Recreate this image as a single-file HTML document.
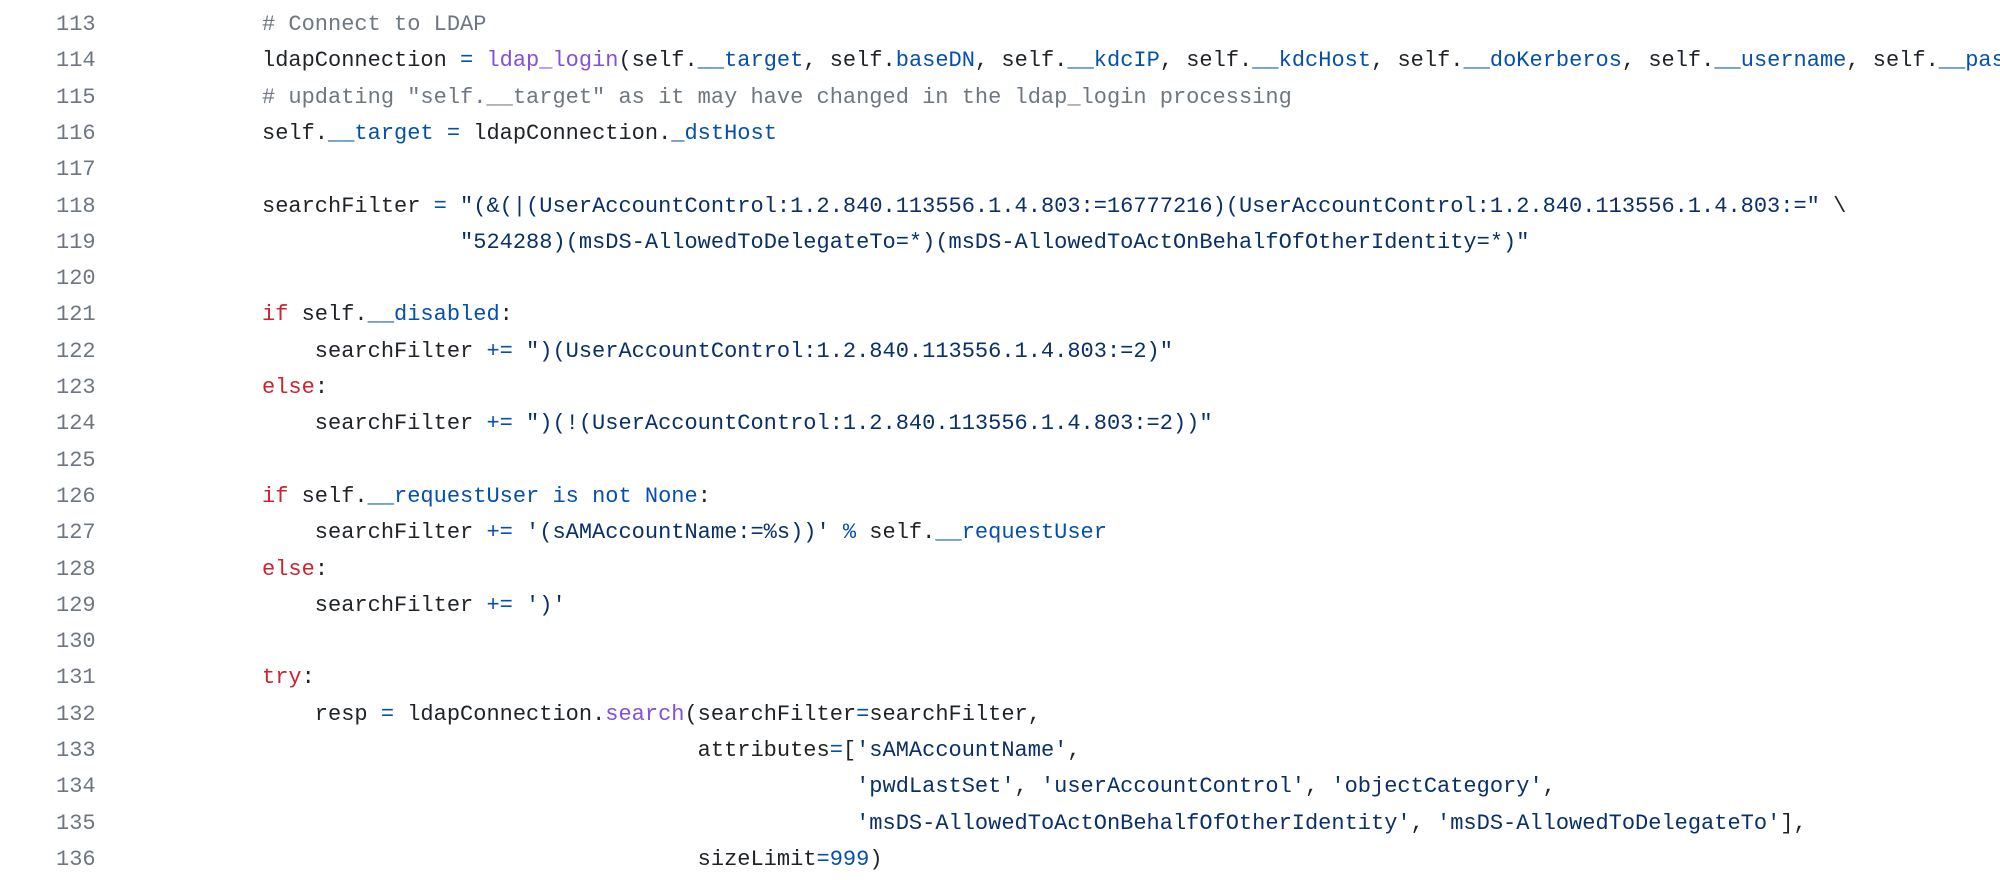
<!DOCTYPE html>
<html><head><meta charset="utf-8"><style>
html,body{margin:0;padding:0;background:#fff;width:2000px;height:880px;overflow:hidden}
.l{position:absolute;left:0;height:36.3px;line-height:36.3px;white-space:pre;font-family:"Liberation Mono",monospace;font-size:22px;color:#1f2328}
.n{position:absolute;left:56px;color:#6e7781}
.c{position:absolute;left:262px}
.k{color:#cf222e}.f{color:#8250df}.b{color:#0550ae}.s{color:#0a3069}.m{color:#6e7781}
</style></head><body>
<div class="l" style="top:7px"><span class="n">113</span><span class="c"><span class="m"># Connect to LDAP</span></span></div>
<div class="l" style="top:43.3px"><span class="n">114</span><span class="c">ldapConnection <span class="b">=</span> <span class="f">ldap_login</span>(self.<span class="b">__target</span>, self.<span class="b">baseDN</span>, self.<span class="b">__kdcIP</span>, self.<span class="b">__kdcHost</span>, self.<span class="b">__doKerberos</span>, self.<span class="b">__username</span>, self.<span class="b">__password</span></span></div>
<div class="l" style="top:79.6px"><span class="n">115</span><span class="c"><span class="m"># updating "self.__target" as it may have changed in the ldap_login processing</span></span></div>
<div class="l" style="top:115.9px"><span class="n">116</span><span class="c">self.<span class="b">__target</span> <span class="b">=</span> ldapConnection.<span class="b">_dstHost</span></span></div>
<div class="l" style="top:152.2px"><span class="n">117</span></div>
<div class="l" style="top:188.5px"><span class="n">118</span><span class="c">searchFilter <span class="b">=</span> <span class="s">"(&amp;(|(UserAccountControl:1.2.840.113556.1.4.803:=16777216)(UserAccountControl:1.2.840.113556.1.4.803:="</span> \</span></div>
<div class="l" style="top:224.8px"><span class="n">119</span><span class="c">               <span class="s">"524288)(msDS-AllowedToDelegateTo=*)(msDS-AllowedToActOnBehalfOfOtherIdentity=*)"</span></span></div>
<div class="l" style="top:261.1px"><span class="n">120</span></div>
<div class="l" style="top:297.4px"><span class="n">121</span><span class="c"><span class="k">if</span> self.<span class="b">__disabled</span>:</span></div>
<div class="l" style="top:333.7px"><span class="n">122</span><span class="c">    searchFilter <span class="b">+=</span> <span class="s">")(UserAccountControl:1.2.840.113556.1.4.803:=2)"</span></span></div>
<div class="l" style="top:370px"><span class="n">123</span><span class="c"><span class="k">else</span>:</span></div>
<div class="l" style="top:406.3px"><span class="n">124</span><span class="c">    searchFilter <span class="b">+=</span> <span class="s">")(!(UserAccountControl:1.2.840.113556.1.4.803:=2))"</span></span></div>
<div class="l" style="top:442.6px"><span class="n">125</span></div>
<div class="l" style="top:478.9px"><span class="n">126</span><span class="c"><span class="k">if</span> self.<span class="b">__requestUser</span> <span class="b">is not None</span>:</span></div>
<div class="l" style="top:515.2px"><span class="n">127</span><span class="c">    searchFilter <span class="b">+=</span> <span class="s">'(sAMAccountName:=%s))'</span> <span class="b">%</span> self.<span class="b">__requestUser</span></span></div>
<div class="l" style="top:551.5px"><span class="n">128</span><span class="c"><span class="k">else</span>:</span></div>
<div class="l" style="top:587.8px"><span class="n">129</span><span class="c">    searchFilter <span class="b">+=</span> <span class="s">')'</span></span></div>
<div class="l" style="top:624.1px"><span class="n">130</span></div>
<div class="l" style="top:660.4px"><span class="n">131</span><span class="c"><span class="k">try</span>:</span></div>
<div class="l" style="top:696.7px"><span class="n">132</span><span class="c">    resp <span class="b">=</span> ldapConnection.<span class="f">search</span>(searchFilter<span class="b">=</span>searchFilter,</span></div>
<div class="l" style="top:733px"><span class="n">133</span><span class="c">                                 attributes<span class="b">=</span>[<span class="s">'sAMAccountName'</span>,</span></div>
<div class="l" style="top:769.3px"><span class="n">134</span><span class="c">                                             <span class="s">'pwdLastSet'</span>, <span class="s">'userAccountControl'</span>, <span class="s">'objectCategory'</span>,</span></div>
<div class="l" style="top:805.6px"><span class="n">135</span><span class="c">                                             <span class="s">'msDS-AllowedToActOnBehalfOfOtherIdentity'</span>, <span class="s">'msDS-AllowedToDelegateTo'</span>],</span></div>
<div class="l" style="top:841.9px"><span class="n">136</span><span class="c">                                 sizeLimit<span class="b">=999</span>)</span></div>
</body></html>
